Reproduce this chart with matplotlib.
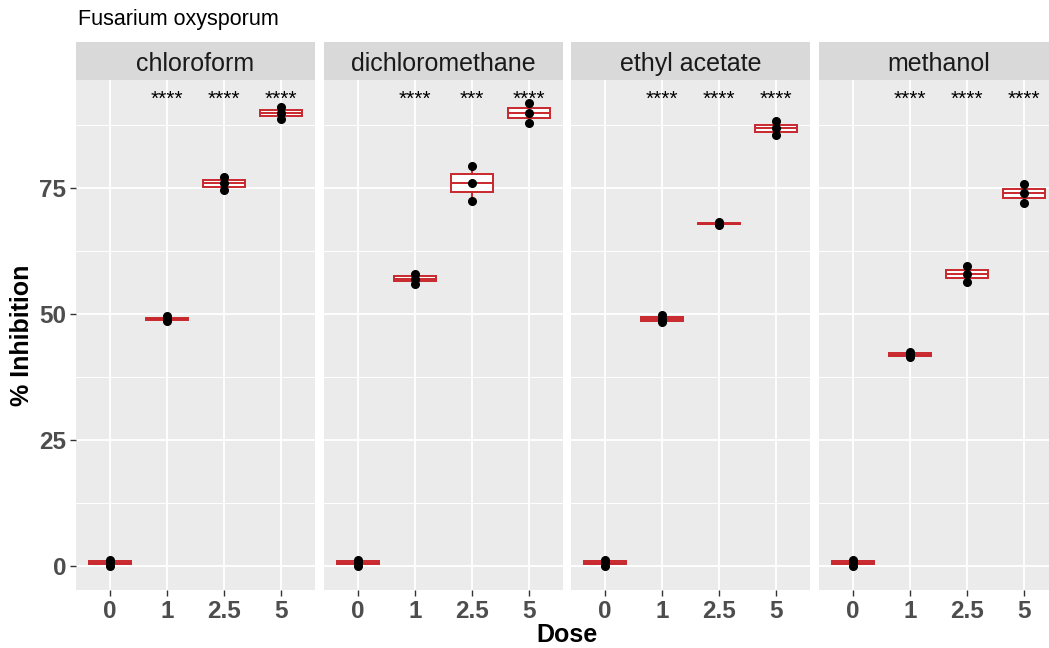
import matplotlib
matplotlib.use("Agg")
import matplotlib.pyplot as plt
import numpy as np

plt.rcParams['font.family'] = ['Liberation Sans', 'DejaVu Sans']

title = "Fusarium oxysporum"
solvents = ["chloroform", "dichloromethane", "ethyl acetate", "methanol"]
doses = ["0", "1", "2.5", "5"]

chloroform = [[0.0, 0.6, 1.2], [48.5, 49.0, 49.5], [74.6, 75.9, 77.2], [88.6, 89.8, 91.0]]
dichloromethane = [[0.0, 0.6, 1.2], [56.0, 57.0, 58.0], [72.3, 75.9, 79.4], [87.9, 89.9, 91.8]]
ethyl_acetate = [[0.0, 0.6, 1.2], [48.3, 49.0, 49.7], [67.6, 67.9, 68.3], [85.4, 86.8, 88.3]]
methanol = [[0.0, 0.6, 1.2], [41.5, 41.9, 42.4], [56.4, 57.9, 59.4], [72.0, 73.9, 75.8]]
all_data = [chloroform, dichloromethane, ethyl_acetate, methanol]

signif = [["", "****", "****", "****"],
          ["", "****", "***", "****"],
          ["", "****", "****", "****"],
          ["", "****", "****", "****"]]

W, H = 1049, 648
fig = plt.figure(figsize=(W / 100, H / 100), dpi=100)

panel_left = [76, 324, 571, 819]
panel_w = 239
top, bottom = 80, 590
strip_top = 42

red = '#C8282D'
bg = '#EBEBEB'

for i, (name, data, sig) in enumerate(zip(solvents, all_data, signif)):
    x0 = panel_left[i]
    ax = fig.add_axes([x0 / W, 1 - bottom / H, panel_w / W, (bottom - top) / H])
    ax.set_facecolor(bg)
    for s in ax.spines.values():
        s.set_visible(False)
    ax.set_xlim(0.4, 4.6)
    ax.set_ylim(-4.8, 96.4)
    # grid
    for y in [12.5, 37.5, 62.5, 87.5]:
        ax.axhline(y, color='white', lw=0.7, zorder=0)
    for y in [0, 25, 50, 75]:
        ax.axhline(y, color='white', lw=1.3, zorder=0)
    for xx in range(1, 5):
        ax.axvline(xx, color='white', lw=1.3, zorder=0)
    pos = np.arange(1, 5)
    ax.boxplot(data, positions=pos, widths=0.75, patch_artist=True,
               showcaps=False, showfliers=False, whis=(0, 100),
               boxprops=dict(facecolor='white', edgecolor=red, linewidth=1.4),
               medianprops=dict(color=red, linewidth=1.4),
               whiskerprops=dict(color=red, linewidth=1.4), zorder=2)
    for p, vals in zip(pos, data):
        ax.plot([p] * len(vals), vals, 'o', color='black', markersize=5.5, zorder=3)
    for p, s in zip(pos, sig):
        if s:
            ax.text(p, 92.6, s, ha='center', va='center', fontsize=15, color='black', zorder=4)
    ax.set_xticks(pos)
    ax.set_xticklabels(doses, fontsize=17.5, fontweight='bold', color='#4D4D4D')
    ax.tick_params(axis='both', length=4, width=1, color='#333333', pad=3)
    if i == 0:
        ax.set_yticks([0, 25, 50, 75])
        ax.set_yticklabels(['0', '25', '50', '75'], fontsize=17.5, fontweight='bold', color='#4D4D4D')
    else:
        ax.set_yticks([0, 25, 50, 75])
        ax.set_yticklabels([])
        ax.tick_params(axis='y', length=0)
    # strip
    sax = fig.add_axes([x0 / W, 1 - top / H, panel_w / W, (top - strip_top) / H])
    sax.set_facecolor('#D9D9D9')
    sax.set_xticks([])
    sax.set_yticks([])
    for s in sax.spines.values():
        s.set_visible(False)
    sax.text(0.5, 0.43, name, ha='center', va='center', fontsize=18, color='#1A1A1A',
             transform=sax.transAxes)

fig.text(78 / W, 1 - 20 / H, title, ha='left', va='center', fontsize=15.5, color='black')
fig.text(22 / W, 1 - 335 / H, '% Inhibition', rotation=90, ha='center', va='center',
         fontsize=18, fontweight='bold')
fig.text(567 / W, 1 - 635 / H, 'Dose', ha='center', va='center', fontsize=18, fontweight='bold')

fig.savefig('out.png', dpi=100)
